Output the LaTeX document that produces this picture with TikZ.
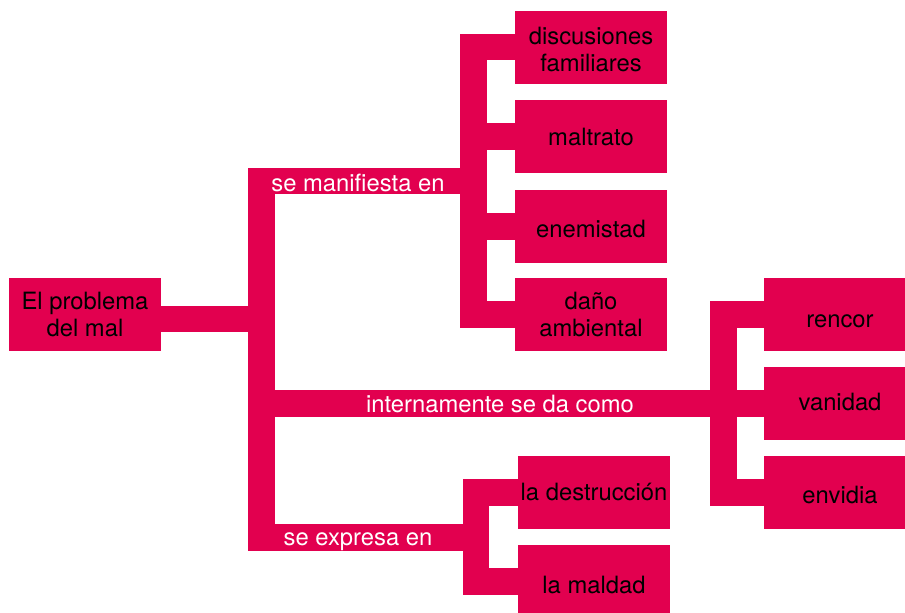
\documentclass[tikz,border=0pt]{standalone}
\usepackage{fontspec}
\setmainfont{TeX Gyre Heros}
\definecolor{mag}{RGB}{226,0,79}
\begin{document}
\begin{tikzpicture}[x=1pt,y=-1pt,
  box/.style={fill=mag,inner sep=0pt,minimum width=152pt,minimum height=73pt,align=center,text=black,font=\fontsize{23.8}{27}\selectfont},
  one/.style={text height=#1,text depth=0pt},
  lab/.style={text=white,inner sep=0pt,anchor=base,font=\fontsize{23.8}{27}\selectfont},
  bar/.style={draw=mag,line width=26.5pt,line join=miter}]
\useasboundingbox (0,0) rectangle (905,613);
% boxes
\node[box] (root) at (85,314.5) {El problema\\del mal};
\node[box] (disc) at (591,47) {\rule{0pt}{23pt}discusiones\\familiares};
\node[box,one=17pt] (malt) at (591,136.5) {maltrato};
\node[box,one=21pt] (enem) at (591,226.5) {enemistad};
\node[box] (dano) at (591,314.5) {daño\\ambiental};
\node[box,one=25pt] (renc) at (840,314.5) {rencor};
\node[box,one=14pt] (vani) at (840,403.5) {vanidad};
\node[box,one=21pt] (envi) at (840,492.5) {envidia};
\node[box,one=15pt] (dest) at (594,492.5) {la destrucción};
\node[box,one=24pt] (mald) at (594,581.5) {la maldad};
% junction coordinates
\coordinate (m1) at (261.5,181);
\coordinate (m2) at (261.5,537.5);
\coordinate (rj) at (261.5,319);
\coordinate (mm) at (261.5,403.5);
\coordinate (tv) at (473.5,181);
\coordinate (rv) at (723.5,403.5);
\coordinate (bv) at (476,537.5);
% connectors
\draw[bar] (tv) -- (m1) -- (m2) -- (bv);
\draw[bar] (rj) -- (rj -| root.east);
\draw[bar] (mm) -- (rv);
\draw[bar] (disc.west) -- (disc.west -| tv) -- (dano.west -| tv) -- (dano.west);
\draw[bar] (malt.west -| tv) -- (malt.west);
\draw[bar] (enem.west -| tv) -- (enem.west);
\draw[bar] (renc.west) -- (renc.west -| rv) -- (envi.west -| rv) -- (envi.west);
\draw[bar] (rv) -- (vani.west);
\draw[bar] (dest.west) -- (dest.west -| bv) -- (mald.west -| bv) -- (mald.west);
% labels
\node[lab] (l1) at (358,191) {se manifiesta en};
\node[lab] (l2) at (500,412) {internamente se da como};
\node[lab] (l3) at (358,545) {se expresa en};
\end{tikzpicture}
\end{document}
